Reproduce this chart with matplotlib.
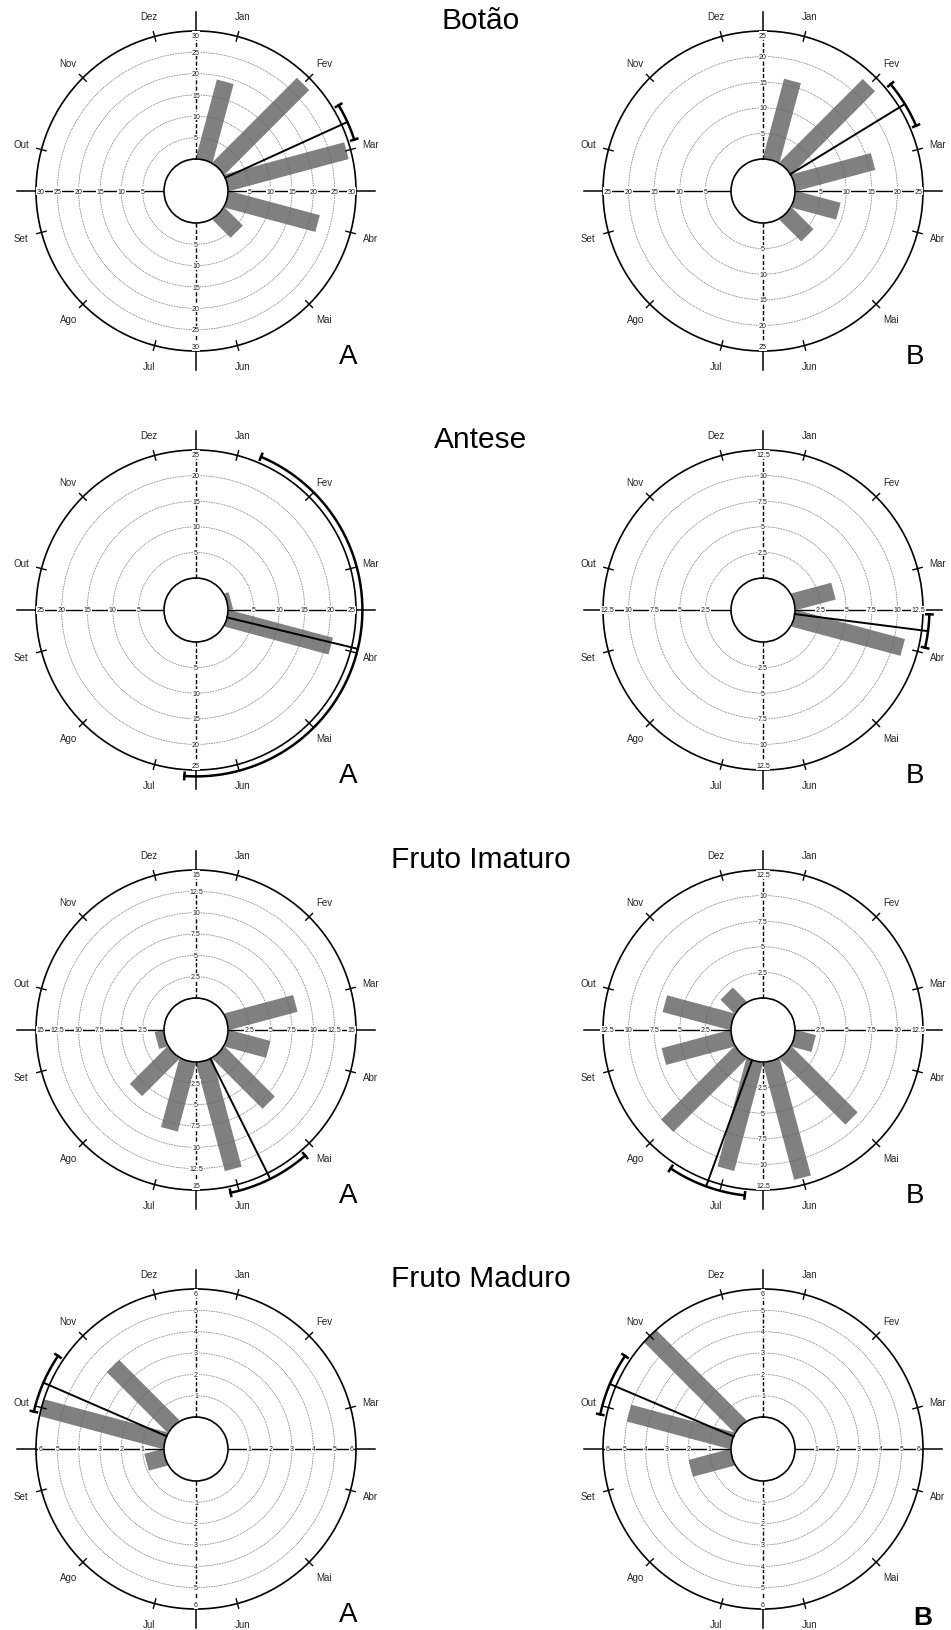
import numpy as np
import matplotlib.pyplot as plt

plt.rcParams['font.family'] = ['Liberation Sans', 'DejaVu Sans']

meses = ['Jan', 'Fev', 'Mar', 'Abr', 'Mai', 'Jun', 'Jul', 'Ago', 'Set', 'Out', 'Nov', 'Dez']
fases = ['Botão', 'Antese', 'Fruto Imaturo', 'Fruto Maduro']

# frequência por mês (Jan..Dez) - área A
botao_A = [19, 28, 29, 22, 6, 0, 0, 0, 0, 0, 0, 0]
antese_A = [0, 0, 0.8, 21, 0, 0, 0, 0, 0, 0, 0, 0]
imaturo_A = [0, 0, 8.3, 5, 8.3, 13.1, 8.3, 6.2, 1.0, 0, 0, 0]
maduro_A = [0, 0, 0, 0, 0, 0, 0, 0, 0.9, 6, 4, 0]

# frequência por mês (Jan..Dez) - área B
botao_B = [16, 23, 16, 9, 6, 0, 0, 0, 0, 0, 0, 0]
antese_B = [0, 0, 4, 11, 0, 0, 0, 0, 0, 0, 0, 0]
imaturo_B = [0, 0, 0, 2, 9.1, 11.8, 10.9, 10.1, 6.9, 6.8, 1.9, 0]
maduro_B = [0, 0, 0, 0, 0, 0, 0, 0, 2, 5, 6, 0]

# escala radial (máximo e passo)
rmax_A = [30, 25, 15, 6]
passo_A = [5, 5, 2.5, 1]
rmax_B = [25, 12.5, 12.5, 6]
passo_B = [5, 2.5, 2.5, 1]

# ângulo médio e desvio padrão circular (graus, a partir do topo)
media_A = [65.5, 103.5, 153.5, 293.5]
desvio_A = [6.5, 80.5, 14.5, 10.5]
media_B = [58.5, 97.3, 200, 293]
desvio_B = [8.4, 5.8, 13.7, 11]

W, H = 951, 1631
cx_col = [196, 763]
cy_lin = [192, 611, 1031, 1450]
R = 160

fig = plt.figure(figsize=(W / 100, H / 100), dpi=100)


def rosa(ax, valores, rmax, passo, media, desvio):
    ax.set_theta_zero_location('N')
    ax.set_theta_direction(-1)
    ax.set_ylim(0, rmax)
    ax.set_rorigin(-rmax / 4)
    ax.set_xticks([])
    ax.set_yticks(np.arange(passo, rmax - passo / 2, passo))
    ax.set_yticklabels([])
    ax.tick_params(axis='y', length=0)
    ax.yaxis.grid(True, ls=(0, (1, 1)), lw=0.6, color='0.4')
    ax.set_axisbelow(False)
    ax.spines['polar'].set_linewidth(1.2)
    ax.spines['inner'].set_linewidth(1.2)

    # fração do raio externo -> valor radial
    def r(f):
        return (f - 0.2) / 0.8 * rmax

    # barras
    th = np.deg2rad(15 + 30 * np.arange(12))
    for t, v in zip(th, valores):
        if v > 0:
            ax.plot([t, t], [0, v], color='#808080', lw=12.5,
                    solid_capstyle='butt', zorder=1.8)

    # eixos em cruz
    for a in [0, 90, 180, 270]:
        t = np.deg2rad(a)
        ls = (0, (3, 1.5)) if a in (0, 180) else '-'
        ax.plot([t, t], [0, rmax], color='k', lw=1.0, ls=ls, zorder=2.2)
        ax.plot([t, t], [rmax, r(1.12)], color='k', lw=1.1, clip_on=False)
        for val in np.arange(passo, rmax + passo / 2, passo):
            pos = val if val < rmax - 1e-9 else rmax - 0.035 * rmax
            ax.text(t, pos, f'{val:g}', fontsize=5, ha='center', va='center',
                    color='0.1', zorder=3,
                    bbox=dict(fc='white', ec='none', pad=0.4))

    # marcas e nomes dos meses
    for t, m in zip(th, meses):
        ax.plot([t, t], [r(0.97), r(1.03)], color='k', lw=1.0, clip_on=False)
        ax.text(t, r(1.13), m, fontsize=7, ha='center', va='center',
                color='0.15', clip_on=False)

    # vetor médio e desvio
    tm = np.deg2rad(media)
    ax.plot([tm, tm], [0, r(1.04)], color='k', lw=1.4, zorder=4, clip_on=False)
    arco = np.deg2rad(np.linspace(media - desvio, media + desvio, 200))
    ax.plot(arco, np.full(arco.size, r(1.04)), color='k', lw=1.8, zorder=4,
            clip_on=False)
    for e in [media - desvio, media + desvio]:
        te = np.deg2rad(e)
        ax.plot([te, te], [r(1.02), r(1.06)], color='k', lw=1.8, zorder=4,
                clip_on=False)


dados_A = [botao_A, antese_A, imaturo_A, maduro_A]
dados_B = [botao_B, antese_B, imaturo_B, maduro_B]

for i in range(4):
    cy = cy_lin[i]
    for j, (dados, rm, ps, md, dv) in enumerate([
            (dados_A, rmax_A, passo_A, media_A, desvio_A),
            (dados_B, rmax_B, passo_B, media_B, desvio_B)]):
        cx = cx_col[j]
        ax = fig.add_axes([(cx - R) / W, 1 - (cy + R) / H, 2 * R / W, 2 * R / H],
                          projection='polar')
        rosa(ax, dados[i], rm[i], ps[i], md[i], dv[i])

        letra = 'AB'[j]
        if i == 3 and j == 1:
            fig.text((cx + 160) / W, 1 - (cy + 168) / H, letra, fontsize=19,
                     fontweight='bold', ha='center', va='center')
        else:
            fig.text((cx + 152) / W, 1 - (cy + 165) / H, letra, fontsize=20,
                     ha='center', va='center')

    fig.text(481 / W, 1 - (cy - 171) / H, fases[i], fontsize=21.5,
             ha='center', va='center')

fig.savefig('out.png', dpi=100)
